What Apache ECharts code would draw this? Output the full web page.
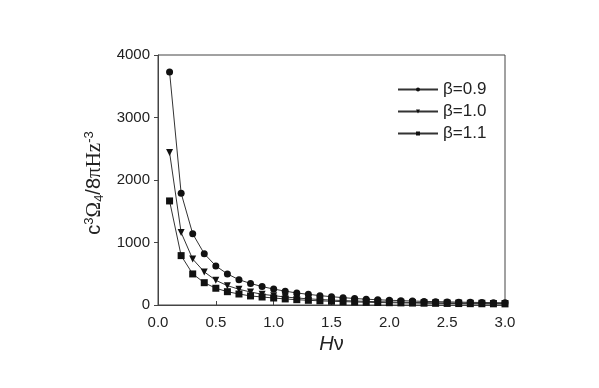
<!DOCTYPE html>
<html>
<head>
<meta charset="utf-8">
<script src="https://cdn.jsdelivr.net/npm/echarts@6/dist/echarts.min.js"></script>
<style>
  html, body { margin: 0; padding: 0; background: #fff; }
  #chart { width: 599px; height: 388px; }
</style>
</head>
<body>
<div id="chart"></div>
<script>
// x values H*nu
const hv = [0.1, 0.2, 0.3, 0.4, 0.5, 0.6, 0.7, 0.8, 0.9, 1.0,
            1.1, 1.2, 1.3, 1.4, 1.5, 1.6, 1.7, 1.8, 1.9, 2.0,
            2.1, 2.2, 2.3, 2.4, 2.5, 2.6, 2.7, 2.8, 2.9, 3.0];
// beta = 0.9 (circles)
const beta09 = [3730, 1790, 1140, 820, 625, 497, 405, 345, 295, 255,
                222, 192, 171, 150, 133, 118, 104, 93, 84, 76,
                70, 64, 58, 54, 50, 46, 43, 40, 38, 36];
// beta = 1.0 (triangles)
const beta10 = [2440, 1160, 735, 530, 395, 310, 252, 208, 172, 150,
                128, 112, 99, 88, 79, 71, 64, 58, 53, 49,
                45, 41, 38, 35, 33, 31, 29, 27, 25, 24];
// beta = 1.1 (squares)
const beta11 = [1665, 790, 497, 357, 268, 213, 176, 145, 128, 112,
                97, 85, 75, 67, 60, 54, 49, 44, 40, 37,
                34, 31, 29, 27, 25, 23, 21, 20, 19, 18];
const seriesNames = ['β=0.9', 'β=1.0', 'β=1.1'];
const symbols = ['circle', 'triangle', 'rect'];

const chart = echarts.init(document.getElementById('chart'));

function makeSeries(name, vals, sym) {
  return {
    name: name,
    type: 'line',
    data: hv.map((x, i) => [x, vals[i]]),
    symbol: sym,
    symbolSize: 7,
    symbolRotate: sym === 'triangle' ? 180 : 0,
    showAllSymbol: true,
    lineStyle: { color: '#333', width: 1 },
    itemStyle: { color: '#111' },
    emphasis: { disabled: true }
  };
}

const font = 'Liberation Sans, Arial, sans-serif';
const serif = 'Liberation Serif, Times New Roman, serif';

chart.setOption({
  animation: false,
  backgroundColor: '#fff',
  grid: {
    left: 158, right: 94, top: 55, bottom: 83,
    show: true, borderColor: '#444', borderWidth: 1
  },
  legend: {
    data: seriesNames,
    orient: 'vertical',
    left: 392, top: 76,
    itemWidth: 40, itemHeight: 5,
    itemGap: 5,
    textStyle: { fontFamily: font, fontSize: 17, color: '#222' }
  },
  xAxis: {
    type: 'value',
    min: 0, max: 3, interval: 0.5,
    axisLine: { lineStyle: { color: '#444' } },
    axisTick: { inside: true, length: 4, lineStyle: { color: '#444' } },
    splitLine: { show: false },
    axisLabel: {
      fontFamily: font, fontSize: 15, color: '#222', margin: 10,
      formatter: v => v.toFixed(1)
    },
    name: '{i|H}ν',
    nameLocation: 'middle',
    nameGap: 26,
    nameTextStyle: {
      fontFamily: font, fontSize: 20, color: '#222',
      rich: { i: { fontFamily: font, fontSize: 20, fontStyle: 'italic', color: '#222' } }
    }
  },
  yAxis: {
    type: 'value',
    min: 0, max: 4000, interval: 1000,
    axisLine: { show: true, lineStyle: { color: '#444' } },
    axisTick: { show: true, length: 4, lineStyle: { color: '#444' } },
    splitLine: { show: false },
    axisLabel: {
      fontFamily: font, fontSize: 15, color: '#222', margin: 8,
      formatter: v => String(v)
    },
    name: 'c{sup|3}{s|Ω}{sub|4}/8{s|πHz}{sup|-3}',
    nameLocation: 'middle',
    nameRotate: 90,
    nameGap: 34,
    nameTextStyle: {
      fontFamily: font, fontSize: 20, color: '#222',
      padding: [0, 6, 0, 0],
      rich: {
        s: { fontFamily: serif, fontSize: 21, color: '#222' },
        sup: { fontFamily: font, fontSize: 13, color: '#222', padding: [0, 0, 10, 0] },
        sub: { fontFamily: font, fontSize: 13, color: '#222', padding: [10, 0, 0, 0] }
      }
    }
  },
  series: [
    makeSeries(seriesNames[0], beta09, symbols[0]),
    makeSeries(seriesNames[1], beta10, symbols[1]),
    makeSeries(seriesNames[2], beta11, symbols[2])
  ]
});
</script>
</body>
</html>
